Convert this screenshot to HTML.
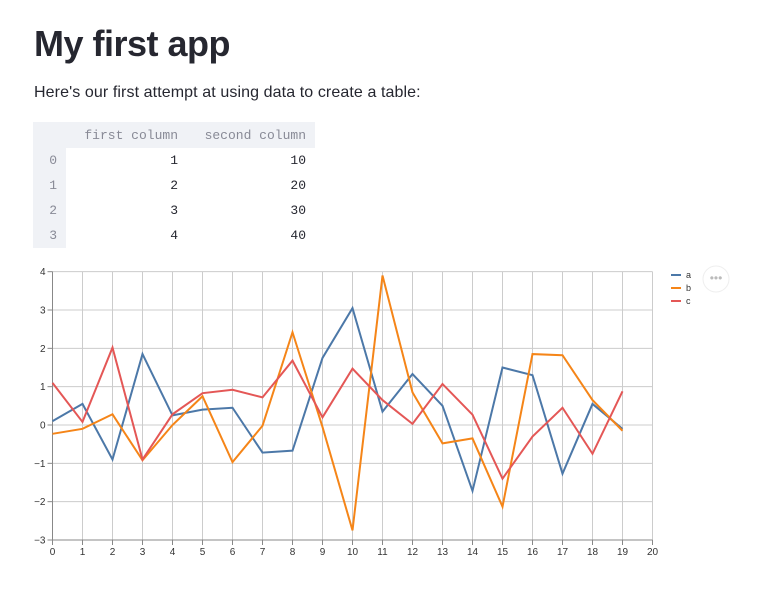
<!DOCTYPE html>
<html><head><style>
body{margin:0;background:#fff;font-family:"Liberation Sans",sans-serif;color:#262730;width:758px;height:602px;overflow:hidden;position:relative}
h1{position:absolute;left:34px;top:23px;margin:0;font-size:36px;font-weight:bold;letter-spacing:-0.5px}
p{position:absolute;left:34px;top:84px;margin:0;font-size:16px;letter-spacing:0.1px}
table{position:absolute;left:33px;top:122px;border-collapse:collapse;font-family:"Liberation Mono",monospace;font-size:13px}
td,th{height:25px;padding:0 9px;text-align:right;font-weight:normal;box-sizing:border-box}
th{color:#888a96;background:#f0f2f6}
td.i{background:#f0f2f6;color:#888a96}
td{color:#262730}
</style></head><body>
<h1>My first app</h1>
<p>Here's our first attempt at using data to create a table:</p>
<table>
<tr><th style="width:33px;height:26px"></th><th style="width:121px">first column</th><th style="width:128px">second column</th></tr>
<tr><td class="i">0</td><td>1</td><td>10</td></tr>
<tr><td class="i">1</td><td>2</td><td>20</td></tr>
<tr><td class="i">2</td><td>3</td><td>30</td></tr>
<tr><td class="i">3</td><td>4</td><td>40</td></tr>
</table>
<svg id="c" width="758" height="602" style="position:absolute;left:0;top:0" font-family="Liberation Sans,sans-serif" font-size="10"></svg>
<script>
var X=function(i){return 52.5+30*i},Y=function(v){return 425-38.33*v};
var s='';
for(var i=0;i<=20;i++){s+='<line x1="'+X(i)+'" x2="'+X(i)+'" y1="'+Y(4)+'" y2="'+Y(-3)+'" stroke="#ccc"/>';
s+='<line x1="'+X(i)+'" x2="'+X(i)+'" y1="'+Y(-3)+'" y2="'+(Y(-3)+5)+'" stroke="#888"/>';
s+='<text x="'+X(i)+'" y="'+(Y(-3)+15)+'" text-anchor="middle" fill="#333">'+i+'</text>';}
for(var v=-3;v<=4;v++){s+='<line x1="'+X(0)+'" x2="'+X(20)+'" y1="'+Y(v)+'" y2="'+Y(v)+'" stroke="#ccc"/>';
s+='<line x1="'+(X(0)-5)+'" x2="'+X(0)+'" y1="'+Y(v)+'" y2="'+Y(v)+'" stroke="#888"/>';
s+='<text x="'+(X(0)-7)+'" y="'+(Y(v)+3.5)+'" text-anchor="end" fill="#333">'+(v<0?'\u2212'+(-v):v)+'</text>';}
s+='<line x1="'+X(0)+'" x2="'+X(0)+'" y1="'+Y(4)+'" y2="'+Y(-3)+'" stroke="#888"/>';
s+='<line x1="'+X(0)+'" x2="'+X(20)+'" y1="'+Y(-3)+'" y2="'+Y(-3)+'" stroke="#888"/>';
var D=[["#4c78a8",[0.1,0.55,-0.9,1.85,0.25,0.4,0.45,-0.72,-0.67,1.75,3.05,0.35,1.33,0.5,-1.72,1.5,1.3,-1.27,0.55,-0.1]],
["#f58518",[-0.23,-0.1,0.28,-0.92,0,0.75,-0.97,-0.02,2.42,-0.05,-2.75,3.9,0.85,-0.48,-0.35,-2.13,1.85,1.82,0.65,-0.15]],
["#e45756",[1.1,0.08,2.02,-0.9,0.28,0.83,0.92,0.72,1.68,0.2,1.47,0.65,0.03,1.07,0.27,-1.4,-0.3,0.45,-0.75,0.88]]];
D.forEach(function(d,k){s+='<polyline fill="none" stroke-width="2" stroke="'+d[0]+'" points="'+d[1].map(function(v,i){return X(i)+','+Y(v)}).join(' ')+'"/>';
s+='<line x1="671" x2="681" y1="'+(275+k*13)+'" y2="'+(275+k*13)+'" stroke="'+d[0]+'" stroke-width="2"/><text x="686" y="'+(278+k*13)+'" font-size="9" fill="#333">'+"abc"[k]+'</text>';});
s+='<circle cx="716" cy="279" r="13" fill="#fff" stroke="#eee"/><text x="716" y="282" text-anchor="middle" fill="#bbb" font-size="12">•••</text>';
document.getElementById('c').innerHTML=s;
</script>
</body></html>
